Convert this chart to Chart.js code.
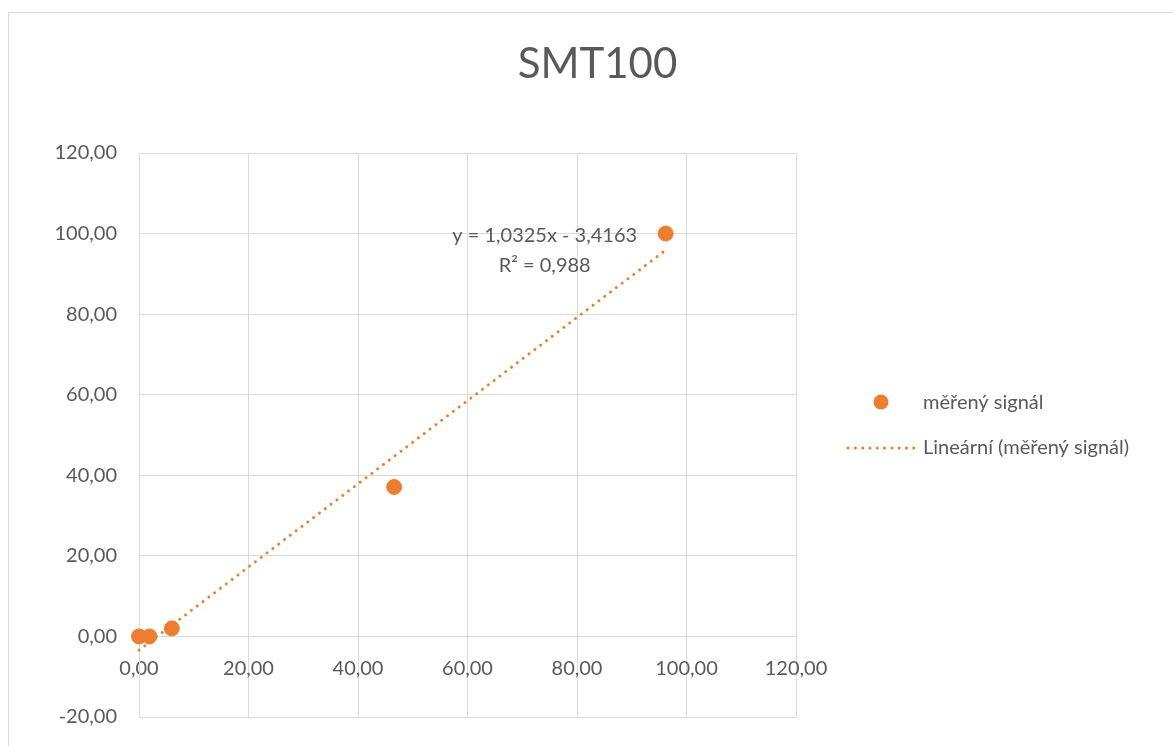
<!DOCTYPE html>
<html>
<head>
<meta charset="utf-8">
<script src="https://cdn.jsdelivr.net/npm/chart.js@4.4.1/dist/chart.umd.min.js"></script>
<style>
  body { margin: 0; background: #fff; overflow: hidden; }
  #box {
    position: absolute; left: 8px; top: 12px; width: 1180px; height: 750px;
    border-left: 1px solid #d9d9d9; border-top: 1px solid #d9d9d9;
  }
  #chart { position: absolute; left: 0; top: 0; }
</style>
</head>
<body>
<div id="box"><canvas id="chart" width="1177" height="745"></canvas></div>
<script>
// measured points
var xValues = [0, 1.9, 6.0, 46.6, 96.2];
var yValues = [0, 0, 2.0, 37.1, 100];

// linear trendline (Excel), endpoints
var trendX = [0, 96.2];
var trendY = [-3.42, 95.9];
var trendText = ['y = 1,0325x - 3,4163', 'R² = 0,988'];

var xTicks = [0, 20, 40, 60, 80, 100, 120];
var yTicks = [-20, 0, 20, 40, 60, 80, 100, 120];

var titleText = 'SMT100';
var orange = '#ED7D31';
var grey = '#595959';
var gridColor = '#d9d9d9';
var fontName = 'Lato, "Open Sans", sans-serif';

function fmt(v) {
    return v.toFixed(2).replace('.', ',');
}

// title, equation label and legend on the right
var extras = {
    id: 'extras',
    afterDraw: function(chart) {
        var c = chart.ctx;
        var xs = chart.scales.x, ys = chart.scales.y;
        c.save();
        c.fillStyle = grey;

        c.font = '42px ' + fontName;
        c.textAlign = 'center';
        c.textBaseline = 'alphabetic';
        c.fillText(titleText, chart.width / 2, 65);

        c.font = '20px ' + fontName;
        c.textBaseline = 'middle';
        c.fillText(trendText[0], xs.getPixelForValue(74.1), ys.getPixelForValue(99.6));
        c.fillText(trendText[1], xs.getPixelForValue(74.1), ys.getPixelForValue(92.0));

        // legend
        var lx = chart.chartArea.right;
        c.textAlign = 'left';
        c.fillText('měřený signál', lx + 127, 390);
        c.fillText('Lineární (měřený signál)', lx + 127, 435);
        c.fillStyle = orange;
        c.beginPath();
        c.arc(lx + 85, 389, 7.5, 0, Math.PI * 2);
        c.fill();
        c.strokeStyle = orange;
        c.lineWidth = 3;
        c.lineCap = 'round';
        c.setLineDash([0.01, 7.3]);
        c.beginPath();
        c.moveTo(lx + 52, 435);
        c.lineTo(lx + 120, 435);
        c.stroke();
        c.restore();
    }
};

var ctx = document.getElementById('chart').getContext('2d');
var chart = new Chart(ctx, {
    type: 'scatter',
    data: {
        datasets: [{
            label: 'měřený signál',
            data: xValues.map(function(x, i) { return {x: x, y: yValues[i]}; }),
            backgroundColor: orange,
            borderColor: orange,
            pointRadius: 7.5,
            pointHoverRadius: 7.5,
            clip: false,
            order: 1
        }, {
            type: 'line',
            label: 'Lineární (měřený signál)',
            data: trendX.map(function(x, i) { return {x: x, y: trendY[i]}; }),
            borderColor: orange,
            borderWidth: 3,
            borderDash: [0.01, 7.3],
            borderCapStyle: 'round',
            pointRadius: 0,
            fill: false,
            clip: false,
            order: 2
        }]
    },
    options: {
        responsive: false,
        animation: false,
        devicePixelRatio: 1,
        layout: { padding: { left: 0, right: 390, top: 140, bottom: 41 } },
        plugins: {
            legend: { display: false },
            tooltip: { enabled: false },
            title: { display: false }
        },
        scales: {
            x: {
                type: 'linear',
                position: { y: 0 },
                min: 0, max: 120,
                afterBuildTicks: function(s) { s.ticks = xTicks.map(function(v) { return {value: v}; }); },
                grid: { color: gridColor, lineWidth: 1, drawTicks: false },
                border: { color: gridColor },
                ticks: {
                    color: grey,
                    padding: 20,
                    maxRotation: 0,
                    font: { family: fontName, size: 20 },
                    callback: function(v) { return fmt(v); }
                }
            },
            y: {
                type: 'linear',
                min: -20, max: 120,
                afterBuildTicks: function(s) { s.ticks = yTicks.map(function(v) { return {value: v}; }); },
                afterFit: function(s) { s.width = 130; },
                grid: { color: gridColor, lineWidth: 1, drawTicks: false },
                border: { color: gridColor },
                ticks: {
                    color: grey,
                    padding: 22,
                    font: { family: fontName, size: 20 },
                    callback: function(v) { return fmt(v); }
                }
            }
        }
    },
    plugins: [extras]
});
</script>
</body>
</html>
